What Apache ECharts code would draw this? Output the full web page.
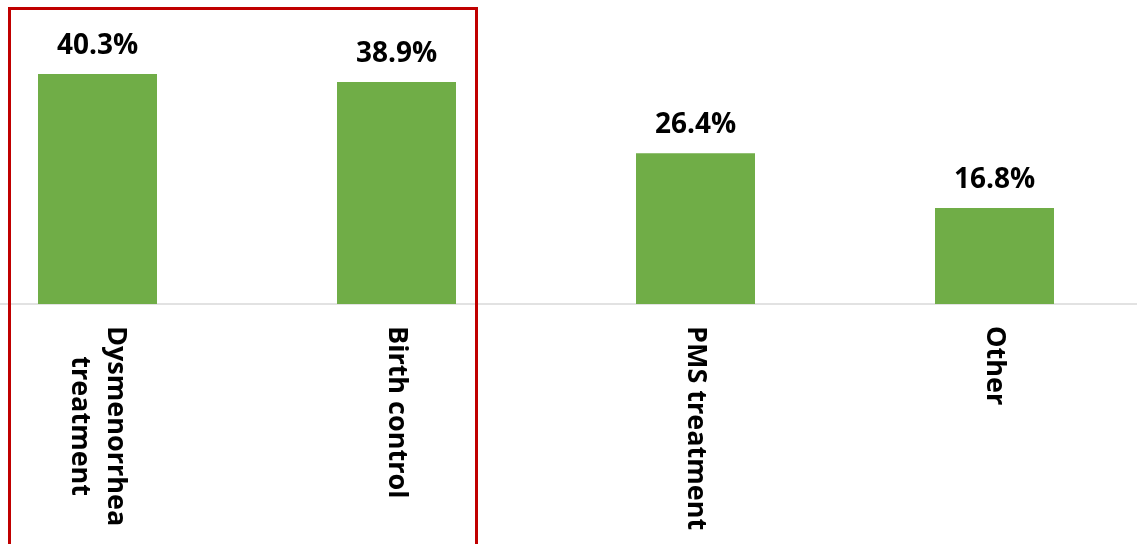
<!DOCTYPE html>
<html>
<head>
<meta charset="utf-8">
<style>
  html, body { margin: 0; padding: 0; background: #ffffff; }
  #chart { width: 1137px; height: 544px; }
</style>
<script src="https://cdn.jsdelivr.net/npm/echarts@6/dist/echarts.min.js"></script>
</head>
<body>
<div id="chart"></div>
<script>
// Reasons for use, share of respondents (%)
const categories = ['Dysmenorrhea\ntreatment', 'Birth control', 'PMS treatment', 'Other'];
const shares = [40.3, 38.9, 26.4, 16.8];
// Categories grouped by the red outline
const highlighted = [0, 1];

const chart = echarts.init(document.getElementById('chart'), null, { renderer: 'canvas' });

const FONT = '"Open Sans", "Noto Sans", sans-serif';

chart.setOption({
  backgroundColor: '#ffffff',
  animation: false,
  grid: {
    left: -52, width: 1196, top: 18.65, bottom: 240,
    containLabel: false,
    outerBoundsMode: 'none'
  },
  xAxis: {
    type: 'category',
    data: categories,
    axisLine: { show: true, lineStyle: { color: '#d9d9d9', width: 1.5 } },
    axisTick: { show: false },
    axisLabel: {
      rotate: -90,
      margin: 22,
      interval: 0,
      color: '#000000',
      formatter: v => v.split('\n').map(s => '{c|' + s + '}').join('\n'),
      rich: {
        c: { align: 'center', fontFamily: FONT, fontWeight: 'bold', fontSize: 27, lineHeight: 36, color: '#000000' }
      }
    }
  },
  yAxis: {
    type: 'value',
    min: 0,
    max: 50,
    show: false,
    splitLine: { show: false }
  },
  series: [{
    type: 'bar',
    data: shares,
    barWidth: 119,
    itemStyle: { color: '#70ad47' },
    label: {
      show: true,
      position: 'top',
      distance: 14,
      color: '#000000',
      fontFamily: FONT,
      fontWeight: 'bold',
      fontSize: 28,
      formatter: p => p.value.toFixed(1) + '%'
    }
  }]
});

// Red outline around the highlighted categories
const xs = highlighted.map(i => chart.convertToPixel({ xAxisIndex: 0 }, i));
const left = Math.min(...xs) - 88;
const right = Math.max(...xs) + 80;
chart.setOption({
  graphic: [{
    type: 'rect',
    shape: { x: left, y: 8.5, width: right - left, height: 600 },
    style: { fill: 'none', stroke: '#c00000', lineWidth: 3 },
    z: 100
  }]
});
</script>
</body>
</html>
